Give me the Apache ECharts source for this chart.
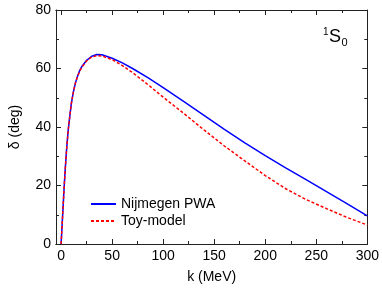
<!DOCTYPE html>
<html><head><meta charset="utf-8">
<script src="https://cdn.jsdelivr.net/npm/echarts@6/dist/echarts.min.js"></script>
<style>html,body{margin:0;padding:0;background:#fff}#c{width:382px;height:289px}</style>
</head><body><div id="c"></div>
<script>
var kValues = [0,1,2,3,4,5,6,7,8,10,12,14,16,18,20,25,30,35,40,50,60,70,85,100,120,140,160,180,200,220,240,260,280,300];
var nijmegen = [0,6.5,13,19.5,25.3,30.5,35.0,39.0,42.2,48.0,51.9,55.0,57.3,59.1,60.5,62.8,64.2,64.8,64.7,63.5,61.9,60.0,56.9,53.5,48.8,44.0,39.2,34.6,30.2,26.0,22.0,17.9,13.8,9.6];
var toyModel = [0,6.5,13,19.5,25.3,30.5,35.0,39.0,42.2,48.0,51.9,55.0,57.2,58.9,60.3,62.6,63.9,64.4,64.3,63.0,61.0,58.6,54.5,50.2,44.7,39.0,33.5,28.4,23.4,18.9,15.2,12.1,9.1,6.5];
var xMajorTicks = [0,50,100,150,200,250,300];
var xMinorTicks = [25,75,125,175,225,275];
var seriesNames = ['Nijmegen PWA','Toy-model'];

function pairs(ys){ return kValues.map(function(k,i){ return [k, ys[i]]; }); }
var font = 'Liberation Sans, Arial, sans-serif';
var lineCol = '#222';
function xAx(pos, ticks, len, labels){
  return {
    type:'value', position:pos, min:-5, max:300, gridIndex:0,
    axisLine:{show:true, onZero:false, lineStyle:{color:lineCol, width:1}},
    axisTick:{show:true, inside:true, length:len, customValues:ticks, lineStyle:{color:lineCol}},
    axisLabel:{show:labels, customValues:ticks, color:'#000', fontSize:14, fontFamily:font, margin:5},
    splitLine:{show:false}
  };
}
function yAx(pos, labels){
  return {
    type:'value', position:pos, min:0, max:80, interval:20, gridIndex:0,
    axisLine:{show:true, onZero:false, lineStyle:{color:lineCol, width:1}},
    axisTick:{show:true, inside:true, length:5, lineStyle:{color:lineCol}},
    minorTick:{show:true, splitNumber:2, length:3, lineStyle:{color:lineCol}},
    axisLabel:{show:labels, color:'#000', fontSize:14, fontFamily:font, margin:5},
    splitLine:{show:false}
  };
}
var xa0 = xAx('bottom', xMajorTicks, 5, true);
xa0.name = 'k (MeV)'; xa0.nameLocation='middle'; xa0.nameGap=26;
xa0.nameTextStyle = {color:'#000', fontSize:14, fontFamily:font};
var ya0 = yAx('left', true);
ya0.name = 'δ (deg)'; ya0.nameLocation='middle'; ya0.nameGap=34;
ya0.nameTextStyle = {color:'#000', fontSize:14, fontFamily:font};

var chart = echarts.init(document.getElementById('c'), null, {renderer:'canvas'});
chart.setOption({
  animation:false,
  backgroundColor:'#fff',
  grid:{left:50, right:12, top:10, bottom:42, containLabel:false},
  xAxis:[xa0, xAx('bottom', xMinorTicks, 3, false), xAx('top', xMajorTicks, 5, false), xAx('top', xMinorTicks, 3, false)],
  yAxis:[ya0, yAx('right', false)],
  legend:{
    orient:'vertical', left:85, top:192, itemWidth:25, itemHeight:14, itemGap:3,
    itemStyle:{opacity:0},
    textStyle:{color:'#000', fontSize:14, fontFamily:font},
    data:seriesNames
  },
  graphic:[
    {type:'text', x:323, y:32, style:{text:'1', font:'10px '+font, fill:'#000', verticalAlign:'middle'}},
    {type:'text', x:329, y:37, style:{text:'S', font:'18px '+font, fill:'#000', verticalAlign:'middle'}},
    {type:'text', x:341.5, y:43, style:{text:'0', font:'11px '+font, fill:'#000', verticalAlign:'middle'}}
  ],
  series:[
    {name:seriesNames[0], type:'line', xAxisIndex:0, yAxisIndex:0, data:pairs(nijmegen), symbol:'none', smooth:false,
     lineStyle:{color:'#0000ff', width:1.5}, itemStyle:{color:'#0000ff'}, z:3},
    {name:seriesNames[1], type:'line', xAxisIndex:0, yAxisIndex:0, data:pairs(toyModel), symbol:'none', smooth:false,
     lineStyle:{color:'#ff0000', width:1.5, type:[3,2]}, itemStyle:{color:'#ff0000'}, z:4}
  ]
});
</script></body></html>
